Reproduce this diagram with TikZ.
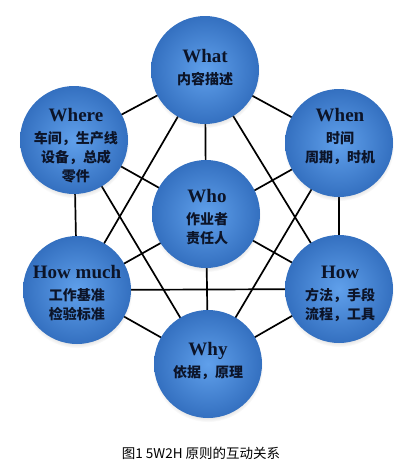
\documentclass[tikz,border=0pt]{standalone}
\usepackage{fontspec}
\setmainfont{Liberation Serif}
\newfontfamily\cjk{Noto Sans CJK SC}
\newfontfamily\enfont{Liberation Serif}
\usetikzlibrary{backgrounds,shadows,fadings}
\definecolor{ballin}{RGB}{96,160,235}
\definecolor{ballout}{RGB}{52,112,192}
\definecolor{txt}{RGB}{12,20,40}
\tikzset{
  ball/.style={circle, minimum size=108pt, inner sep=0pt,
    inner color=ballin, outer color=ballout,
    circular drop shadow={shadow xshift=0pt, shadow yshift=-3pt, opacity=0.35, shadow scale=1.02}},
  balltext/.style={align=center, text=txt, inner sep=0pt,
    font=\cjk\bfseries\fontsize{14}{19}\selectfont},
  link/.style={line width=1.7pt, black},
  caption/.style={font=\cjk\fontsize{13.5}{15}\selectfont, text=black}
}
\newcommand{\en}[1]{{\enfont\bfseries\fontsize{19}{19}\selectfont #1}}
\begin{document}
\begin{tikzpicture}[x=1pt,y=-1pt]
\useasboundingbox (0,0) rectangle (411,466);
\node[ball] (what) at (205,70) {};
\node[ball] (where) at (74,140) {};
\node[ball] (when) at (339,143) {};
\node[ball] (who) at (206,214) {};
\node[ball] (howmuch) at (77,290) {};
\node[ball] (how) at (339,289) {};
\node[ball] (why) at (208,364) {};
\begin{scope}[on background layer]
\draw[link] (what.center) -- (where.center);
\draw[link] (what.center) -- (when.center);
\draw[link] (what.center) -- (how.center);
\draw[link] (what.center) -- (howmuch.center);
\draw[link] (what.center) -- (who.center);
\draw[link] (who.center) -- (why.center);
\draw[link] (when.center) -- (how.center);
\draw[link] (when.center) -- (why.center);
\draw[link] (when.center) -- (howmuch.center);
\draw[link] (how.center) -- (why.center);
\draw[link] (how.center) -- (howmuch.center);
\draw[link] (how.center) -- (where.center);
\draw[link] (why.center) -- (howmuch.center);
\draw[link] (why.center) -- (where.center);
\draw[link] (howmuch.center) -- (where.center);
\end{scope}
\node[balltext] (what-t) at (205,68) {\en{What}\\[3pt]内容描述};
\node[balltext] (where-t) at (76,146) {\en{Where}\\[3pt]车间，生产线\\设备，总成\\零件};
\node[balltext] (when-t) at (340,136) {\en{When}\\[3pt]时间\\周期，时机};
\node[balltext] (who-t) at (207,217) {\en{Who}\\[3pt]作业者\\责任人};
\node[balltext] (howmuch-t) at (77,293) {\en{How much}\\[3pt]工作基准\\检验标准};
\node[balltext] (how-t) at (340,294) {\en{How}\\[3pt]方法，手段\\流程，工具};
\node[balltext] (why-t) at (208,361) {\en{Why}\\[3pt]依据，原理};
\node[caption] (cap) at (201,453) {图1 5W2H 原则的互动关系};
\end{tikzpicture}
\end{document}
